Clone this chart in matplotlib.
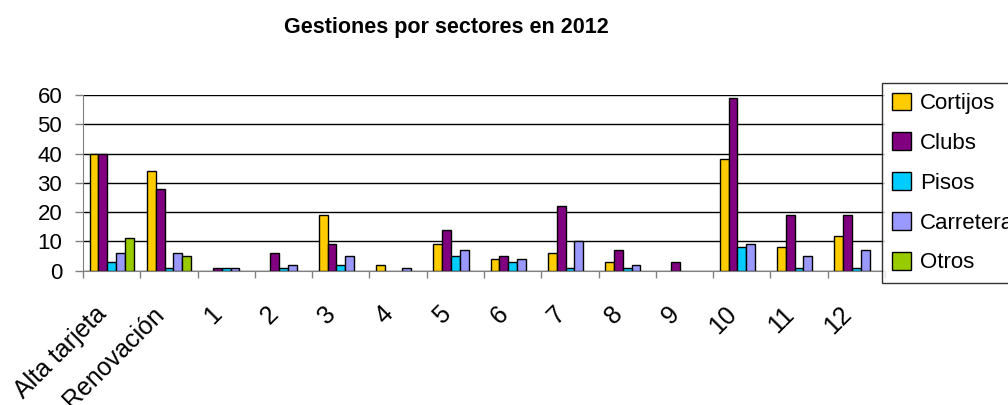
import matplotlib
matplotlib.use('Agg')
import matplotlib.pyplot as plt
import matplotlib.transforms as mtransforms
import numpy as np

plt.rcParams['font.family'] = ['Liberation Sans', 'DejaVu Sans']

# Datos
categorias = ['Alta tarjeta', 'Renovación', '1', '2', '3', '4', '5', '6',
              '7', '8', '9', '10', '11', '12']
cortijos = [40, 34, 0, 0, 19, 2, 9, 4, 6, 3, 0, 38, 8, 12]
clubs = [40, 28, 1, 6, 9, 0, 14, 5, 22, 7, 3, 59, 19, 19]
pisos = [3, 1, 1, 1, 2, 0, 5, 3, 1, 1, 0, 8, 1, 1]
carreteras = [6, 6, 1, 2, 5, 1, 7, 4, 10, 2, 0, 9, 5, 7]
otros = [11, 5, 0, 0, 0, 0, 0, 0, 0, 0, 0, 0, 0, 0]

series = [('Cortijos', cortijos, '#FFCC00'),
          ('Clubs', clubs, '#800080'),
          ('Pisos', pisos, '#00CCFF'),
          ('Carreteras', carreteras, '#9999FF'),
          ('Otros', otros, '#99CC00')]

fig = plt.figure(figsize=(10.08, 4.05), dpi=100)
ax = fig.add_axes([83 / 1008, 1 - 270.7 / 405, 802 / 1008, 175.7 / 405])

x = np.arange(len(categorias))
n = len(series)
w = 1 / (n + 1.5)
for i, (nombre, vals, color) in enumerate(series):
    vals = np.array(vals)
    pos = x - 0.5 + 0.75 * w + i * w + w / 2
    m = vals > 0  # Excel no dibuja las barras a cero
    ax.bar(pos[m], vals[m], width=w, color=color, edgecolor='black',
           linewidth=1, label=nombre, align='center', zorder=3)

ax.set_xlim(-0.5, len(categorias) - 0.5)
ax.set_ylim(0, 60)
ax.set_yticks(range(0, 61, 10))
ax.yaxis.grid(True, color='black', linewidth=1, zorder=0)
ax.tick_params(axis='y', labelsize=16, length=6, width=1, color='#808080', pad=9)

# marcas entre categorias
ax.set_xticks(np.arange(-0.5, len(categorias), 1))
ax.set_xticklabels([])
ax.tick_params(axis='x', length=5, width=1, color='#808080')
ax.set_xticks(x, minor=True)
ax.set_xticklabels(categorias, minor=True, rotation=45, ha='right',
                   rotation_mode='anchor', fontsize=18)
ax.tick_params(axis='x', which='minor', length=0, pad=14)
desp = mtransforms.ScaledTranslation(-17 / 100, -12 / 100, fig.dpi_scale_trans)
for lab in ax.get_xticklabels(minor=True):
    lab.set_transform(lab.get_transform() + desp)

for s in ['top', 'right']:
    ax.spines[s].set_visible(False)
ax.spines['left'].set_color('#808080')
ax.spines['bottom'].set_color('#808080')
ax.spines['bottom'].set_zorder(4)

fig.text(446 / 1008, 1 - 27 / 405, 'Gestiones por sectores en 2012',
         ha='center', va='center', fontsize=15.5, fontweight='bold')

leg = fig.legend(loc='upper left', bbox_to_anchor=(882 / 1008, 1 - 82.7 / 405),
                 fontsize=16, frameon=True, fancybox=False, handlelength=0.85,
                 handleheight=0.85, handletextpad=0.4, labelspacing=0.82,
                 borderpad=0.45, borderaxespad=0)
leg.get_frame().set_edgecolor('black')
leg.get_frame().set_linewidth(1)

fig.savefig('out.png', dpi=100)
